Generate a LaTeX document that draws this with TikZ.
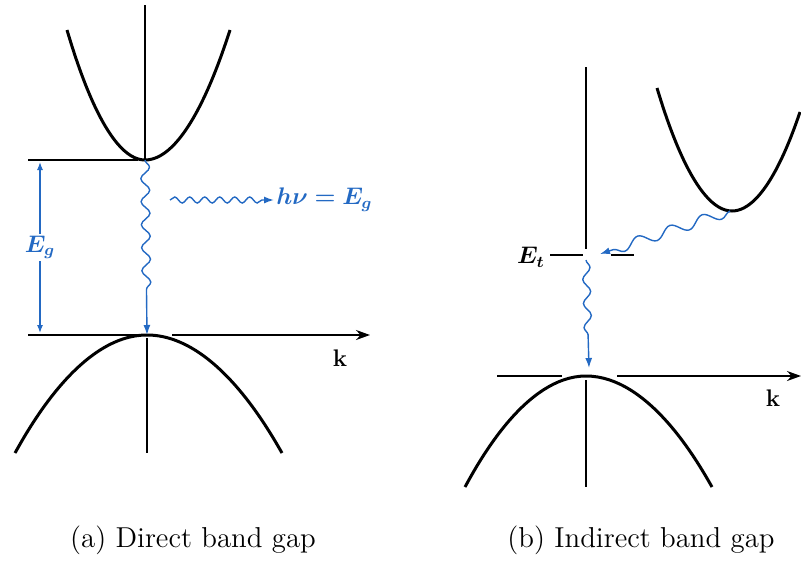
\documentclass[tikz,border=0pt]{standalone}
\usepackage{amsmath}
\usepackage{bm}
\usepackage{xcolor}
\usetikzlibrary{arrows.meta,positioning,decorations.pathmorphing}
\definecolor{bandBlue}{RGB}{35,105,195}
\tikzset{
    band/.style={line width=1.5pt, black},
    axis/.style={line width=0.9pt, black},
    axisArrow/.style={axis, -{Stealth[length=7pt, width=5pt]}},
    level/.style={line width=1.4pt, black},
    % transitions
    wave/.style={
        bandBlue, line width=0.7pt,
        decorate, decoration={snake, amplitude=#1, segment length=10pt, post length=12pt},
        -{Latex[length=5pt, width=3.5pt]}
    },
    wave/.default=1.6pt,
    gapArrow/.style={bandBlue, line width=0.6pt, {Latex[length=4pt, width=3pt]}-{Latex[length=4pt, width=3pt]}},
    bandLabel/.style={font=\large, inner sep=1pt},
    caption/.style={font=\Large}
}
\begin{document}
\begin{tikzpicture}[x=0.5pt, y=-0.5pt]
\useasboundingbox (0,0) rectangle (801,562);

% (a) direct gap
\coordinate (cbA) at (145,160);
\coordinate (vbA) at (147,335);
\coordinate (egTop) at (40,162);
\coordinate (egBot) at (40,333);
\draw[axis] (145,5) -- (cbA);
\draw[axis] (147,338) -- (147,453);
\draw[axis] (28,160) -- (138,160);
\draw[axis] (28,335) -- (140,335);
\draw[axisArrow] (172,335) -- (370,335);
\draw[band] (67,30) parabola bend (cbA) (230,30);
\draw[band] (15,453) parabola bend (vbA) (282,453);
\draw[gapArrow] (egTop) -- (egBot) node[midway, bandLabel, fill=white, text=bandBlue] (eg) {$\bm{E_g}$};
\draw[wave=2.2pt, decoration={segment length=11.5pt, post length=19pt}] (cbA) -- (vbA);
\coordinate (phStart) at (170,200);
\node[bandLabel, anchor=west, text=bandBlue] (hnu) at (274,200) {$\bm{h\nu = E_g}$};
\draw[wave=1.5pt, decoration={segment length=7.5pt, post length=3pt}] (phStart) -- (hnu.west);
\node[bandLabel] (kA) at (340,358) {$\bm{\mathrm{k}}$};
\node[caption] (capA) at (193,540) {(a) Direct band gap};

% (b) indirect gap
\coordinate (cbB) at (730,211);
\coordinate (vbB) at (586,376);
\coordinate (trap) at (600,254);
\coordinate (trapOut) at (586,260);
\coordinate (vbTop) at (589,368);
\draw[axis] (586,67) -- (586,249);
\draw[axis] (586,380) -- (586,487);
\draw[axis] (497,376) -- (562,376);
\draw[axisArrow] (617,376) -- (801,376);
\draw[band] (657,88) parabola bend (732,211) (800,112);
\draw[band] (465,487) parabola bend (vbB) (712,487);
\draw[level] (550,255) -- (583,255);
\draw[level] (611,255) -- (634,255);
\node[bandLabel] (et) at (531,257) {$\bm{E_t}$};
\draw[wave=2.6pt, decoration={segment length=17pt, post length=5pt}] (cbB) -- (trap);
\draw[wave=1.9pt, decoration={segment length=12pt, post length=11pt}] (trapOut) -- (vbTop);
\node[bandLabel] (kB) at (773,398) {$\bm{\mathrm{k}}$};
\node[caption] (capB) at (641,540) {(b) Indirect band gap};
\end{tikzpicture}
\end{document}
